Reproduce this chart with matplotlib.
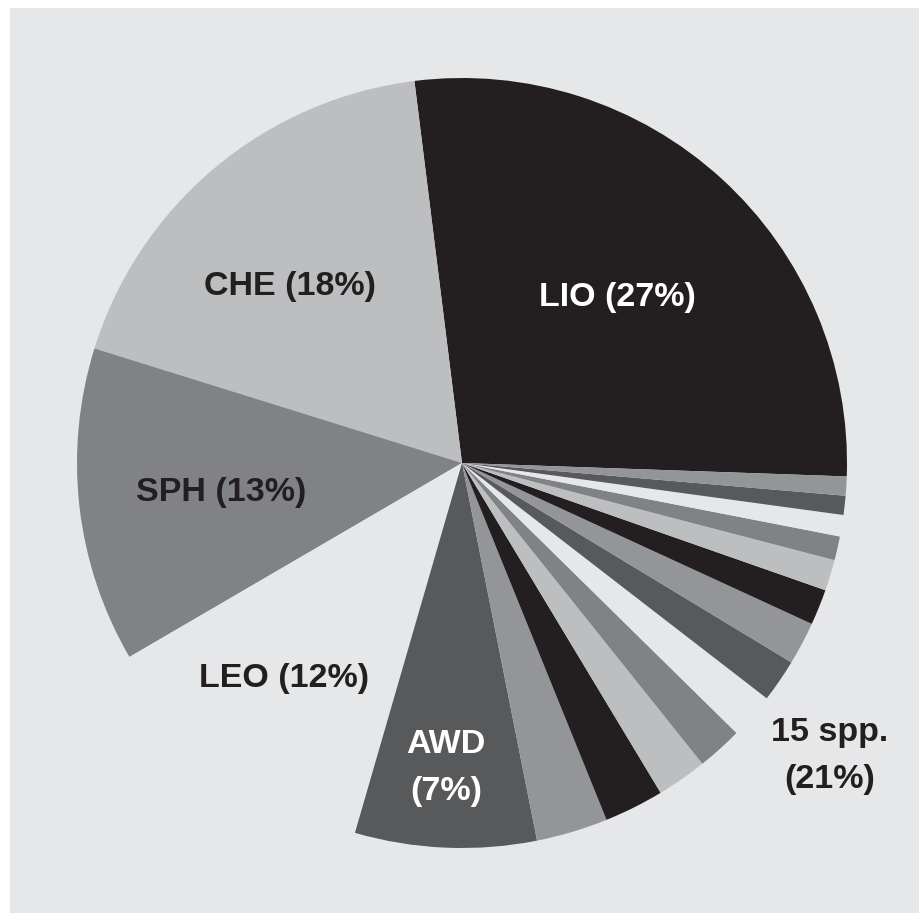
import matplotlib.pyplot as plt
from matplotlib.patches import Rectangle

# Share of each group, going counterclockwise from LIO
species = ['LIO', 'CHE', 'SPH', 'LEO', 'AWD']
main_share = [27.5, 18.2, 13.2, 12.1, 7.6]
# the 15 spp. group, drawn as small wedges
other_share = [3.0, 2.5, 2.1, 1.9, 1.9, 1.8, 1.8, 1.5, 1.3, 1.0, 0.9, 0.8, 0.8]
labels = ['LIO (27%)', 'CHE (18%)', 'SPH (13%)', 'LEO (12%)', 'AWD\n(7%)', '15 spp.\n(21%)']

palette = ['#231f20', '#bcbec0', '#808285', '#e6e7e8', '#58595b', '#939598']
values = main_share + other_share
colors = [palette[i % len(palette)] for i in range(len(values))]

W, H = 919, 913
fig = plt.figure(figsize=(W / 100, H / 100), dpi=100)
fig.patch.set_facecolor('white')

# grey panel behind the chart
fig.add_artist(Rectangle((10 / W, 0), 1, 1 - 8 / H, transform=fig.transFigure,
                         facecolor='#e6e7e8', edgecolor='none', zorder=0))

# pie centre and radius in pixels
cx, cy, r = 462, 463, 385
ax = fig.add_axes([(cx - r) / W, (H - cy - r) / H, 2 * r / W, 2 * r / H])
ax.set_facecolor('none')

ax.pie(values, colors=colors, startangle=-2, counterclock=True, radius=1,
       wedgeprops=dict(linewidth=0))
ax.set_xlim(-1, 1)
ax.set_ylim(-1, 1)
ax.axis('off')

# label positions (pixel coords of text centres)
label_pos = [(617, 297), (290, 286), (221, 492), (284, 679), (446, 768), (830, 756)]
label_col = ['white', '#231f20', '#231f20', '#231f20', 'white', '#231f20']

for txt, (px, py), c in zip(labels, label_pos, label_col):
    ax.text((px - cx) / r, (cy - py) / r, txt, ha='center', va='center',
            fontsize=24.5, fontweight='bold', color=c, family='Liberation Sans',
            linespacing=1.65)

fig.savefig('out.png', dpi=100)
